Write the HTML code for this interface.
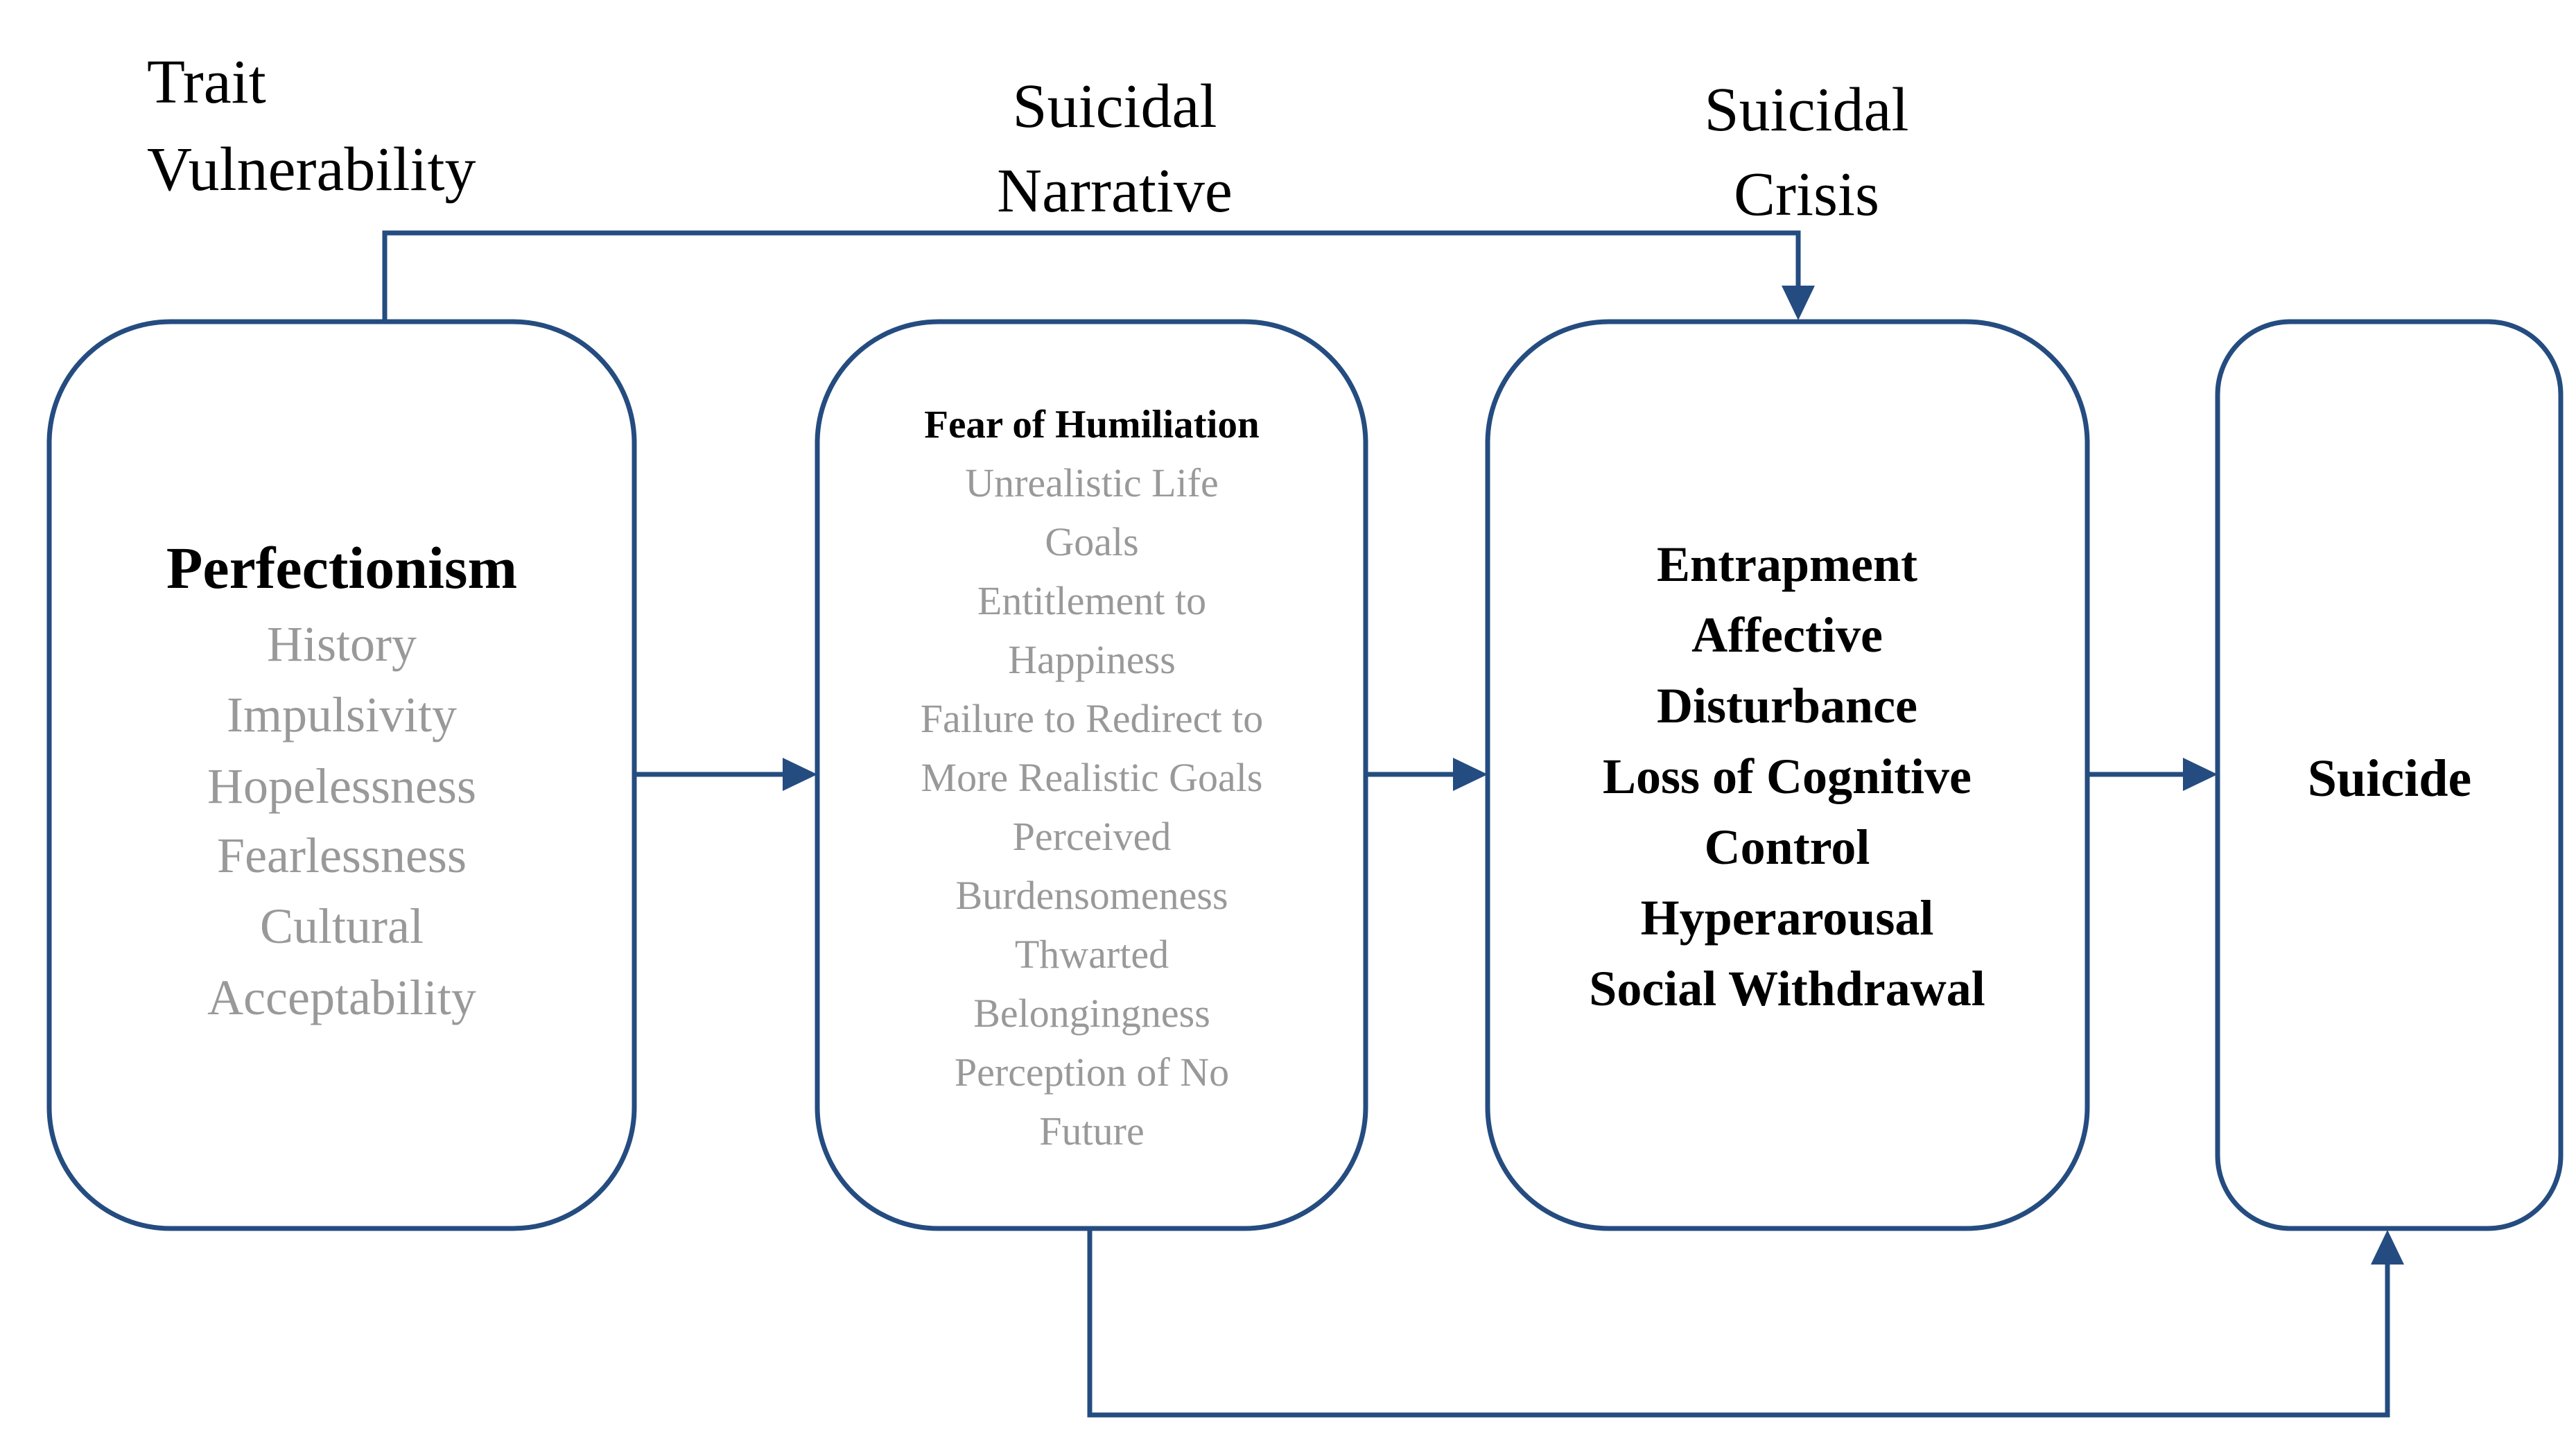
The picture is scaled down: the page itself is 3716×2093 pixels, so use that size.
<!DOCTYPE html>
<html><head><meta charset="utf-8"><style>html,body{margin:0;padding:0;background:#fff}svg{display:block}</style></head>
<body>
<svg width="3716" height="2093" viewBox="0 0 3716 2093" xmlns="http://www.w3.org/2000/svg" font-family="'Liberation Serif',serif">
<g fill="none" stroke="#244c80" stroke-width="7">
<rect x="71" y="464" width="844" height="1308" rx="175"/>
<rect x="1179" y="464" width="791" height="1308" rx="175"/>
<rect x="2146" y="464" width="865" height="1308" rx="175"/>
<rect x="3199" y="464" width="495" height="1308" rx="105"/>
<polyline points="555,464 555,336 2594,336 2594,420"/>
<line x1="915" y1="1117" x2="1135" y2="1117"/>
<line x1="1970" y1="1117" x2="2102" y2="1117"/>
<line x1="3011" y1="1117" x2="3155" y2="1117"/>
<polyline points="1572,1772 1572,2041 3444,2041 3444,1816"/>
</g>
<g fill="#244c80">
<polygon points="2570,412 2618,412 2594,462"/>
<polygon points="1129,1093 1129,1141 1179,1117"/>
<polygon points="2096,1093 2096,1141 2146,1117"/>
<polygon points="3149,1093 3149,1141 3199,1117"/>
<polygon points="3420,1824 3468,1824 3444,1774"/>
</g>
<g font-size="90" fill="#000">
<text x="212" y="148">Trait</text>
<text x="212" y="274">Vulnerability</text>
<text x="1608" y="183" text-anchor="middle">Suicidal</text>
<text x="1608" y="305" text-anchor="middle">Narrative</text>
<text x="2606" y="188" text-anchor="middle">Suicidal</text>
<text x="2606" y="310" text-anchor="middle">Crisis</text>
</g>
<text x="493" y="848" font-size="86" font-weight="bold" text-anchor="middle">Perfectionism</text>
<g font-size="72" fill="#999" text-anchor="middle">
<text x="493" y="953">History</text>
<text x="493" y="1055">Impulsivity</text>
<text x="493" y="1158">Hopelessness</text>
<text x="493" y="1258">Fearlessness</text>
<text x="493" y="1360">Cultural</text>
<text x="493" y="1463">Acceptability</text>
</g>
<text x="1575" y="631" font-size="57" font-weight="bold" text-anchor="middle">Fear of Humiliation</text>
<g font-size="58" fill="#999" text-anchor="middle">
<text x="1575" y="716">Unrealistic Life</text>
<text x="1575" y="801">Goals</text>
<text x="1575" y="886">Entitlement to</text>
<text x="1575" y="971">Happiness</text>
<text x="1575" y="1056">Failure to Redirect to</text>
<text x="1575" y="1141">More Realistic Goals</text>
<text x="1575" y="1226">Perceived</text>
<text x="1575" y="1311">Burdensomeness</text>
<text x="1575" y="1396">Thwarted</text>
<text x="1575" y="1481">Belongingness</text>
<text x="1575" y="1566">Perception of No</text>
<text x="1575" y="1651">Future</text>
</g>
<g font-size="72" font-weight="bold" text-anchor="middle">
<text x="2578" y="838">Entrapment</text>
<text x="2578" y="940">Affective</text>
<text x="2578" y="1042">Disturbance</text>
<text x="2578" y="1144">Loss of Cognitive</text>
<text x="2578" y="1246">Control</text>
<text x="2578" y="1348">Hyperarousal</text>
<text x="2578" y="1450">Social Withdrawal</text>
<text x="3447" y="1148" font-size="76">Suicide</text>
</g>
</svg>
</body></html>
